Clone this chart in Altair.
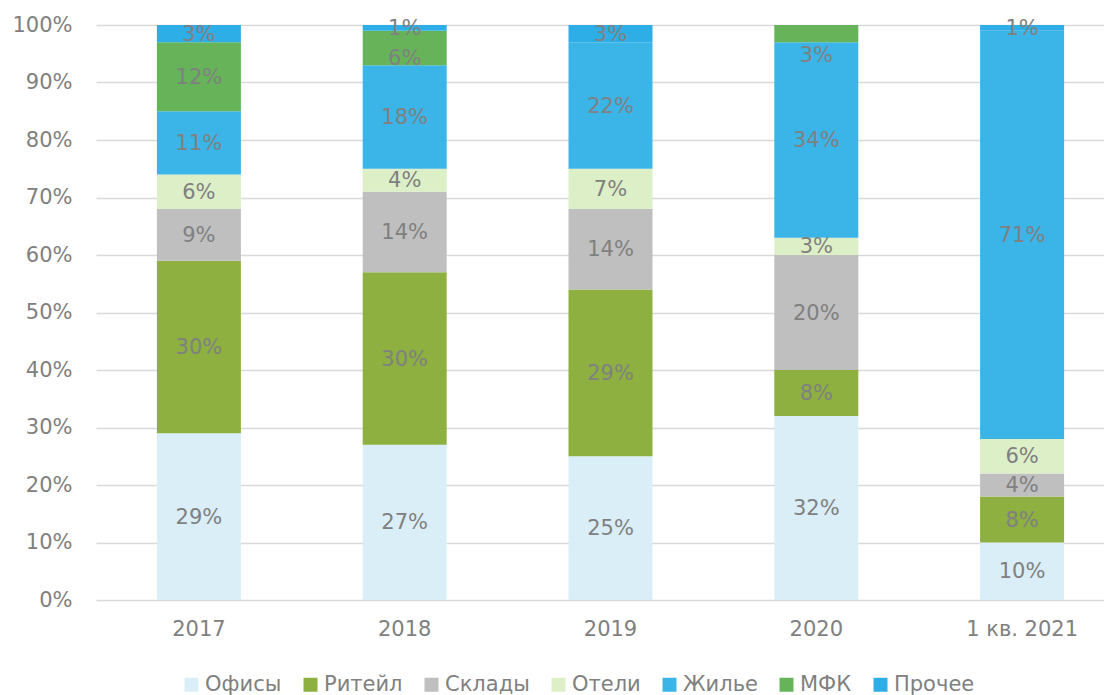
import altair as alt
import pandas as pd

years = ["2017", "2018", "2019", "2020", "1 кв. 2021"]
series = ["Офисы", "Ритейл", "Склады", "Отели", "Жилье", "МФК", "Прочее"]
colors = ["#DAEEF8", "#8DB040", "#BFBFBF", "#DDEFC7", "#3BB4E7", "#66B35A", "#2DAEE6"]

offices = [29, 27, 25, 32, 10]
retail = [30, 30, 29, 8, 8]
warehouses = [9, 14, 14, 20, 4]
hotels = [6, 4, 7, 3, 6]
housing = [11, 18, 22, 34, 71]
mfc = [12, 6, 0, 3, 0]
other = [3, 1, 3, 0, 1]

values = [offices, retail, warehouses, hotels, housing, mfc, other]
rows = []
for si, (name, vals) in enumerate(zip(series, values)):
    for yi, y in enumerate(years):
        rows.append({"year": y, "series": name, "idx": si, "value": vals[yi]})
df = pd.DataFrame(rows)

FONT = "DejaVu Sans"
GRAY = "#808080"
FS = 21

x_scale = alt.Scale(domain=years, range=[0, 1029], paddingInner=0, paddingOuter=0)
y_scale = alt.Scale(domain=[0, 100], nice=False)

base = alt.Chart(df)

bars = base.mark_bar(size=84).encode(
    x=alt.X(
        "year:N",
        sort=years,
        scale=x_scale,
        axis=alt.Axis(
            title=None, labelAngle=0, ticks=False, domain=False, labelPadding=18,
            labelFontSize=FS, labelColor=GRAY, labelFont=FONT, grid=False,
        ),
    ),
    y=alt.Y(
        "value:Q",
        stack="zero",
        scale=y_scale,
        axis=alt.Axis(
            title=None, values=list(range(0, 101, 10)),
            labelExpr="datum.value + '%'", ticks=False, domain=False,
            labelPadding=24, labelFontSize=FS, labelColor=GRAY, labelFont=FONT,
            gridColor="#D9D9D9", gridWidth=1.5,
        ),
    ),
    color=alt.Color(
        "series:N",
        sort=series,
        scale=alt.Scale(domain=series, range=colors),
        legend=alt.Legend(
            title=None, orient="none", legendX=85, legendY=649,
            direction="horizontal", columns=7, symbolType="square",
            symbolSize=196, symbolStrokeWidth=0, labelFontSize=FS,
            labelColor=GRAY, labelFont=FONT, columnPadding=18, labelOffset=3,
            padding=0,
        ),
    ),
    order=alt.Order("idx:Q", sort="ascending"),
)

labels = (
    base.transform_window(
        cum="sum(value)", groupby=["year"], sort=[alt.SortField("idx", order="ascending")]
    )
    .transform_calculate(
        mid="datum.cum - datum.value / 2"
        " - (datum.series == 'МФК' && datum.year == '2018' ? 1.7 : 0)"
        " - (datum.series == 'МФК' && datum.year == '2020' ? 3.8 : 0)",
        lab="datum.value + '%'",
    )
    .transform_filter("datum.value > 0")
    .mark_text(fontSize=FS, color=GRAY, font=FONT, baseline="middle", dy=1)
    .encode(
        x=alt.X("year:N", sort=years, scale=x_scale),
        y=alt.Y("mid:Q", scale=y_scale),
        text="lab:N",
    )
)

chart = (
    alt.layer(bars, labels)
    .properties(
        width=1008,
        height=575,
        padding={"left": 88, "top": 17, "right": 0, "bottom": 95},
        autosize=alt.AutoSizeParams(type="none"),
        background="white",
    )
    .configure_view(stroke=None)
)

chart.save("out.html", embed_options={"renderer": "svg", "actions": False})
